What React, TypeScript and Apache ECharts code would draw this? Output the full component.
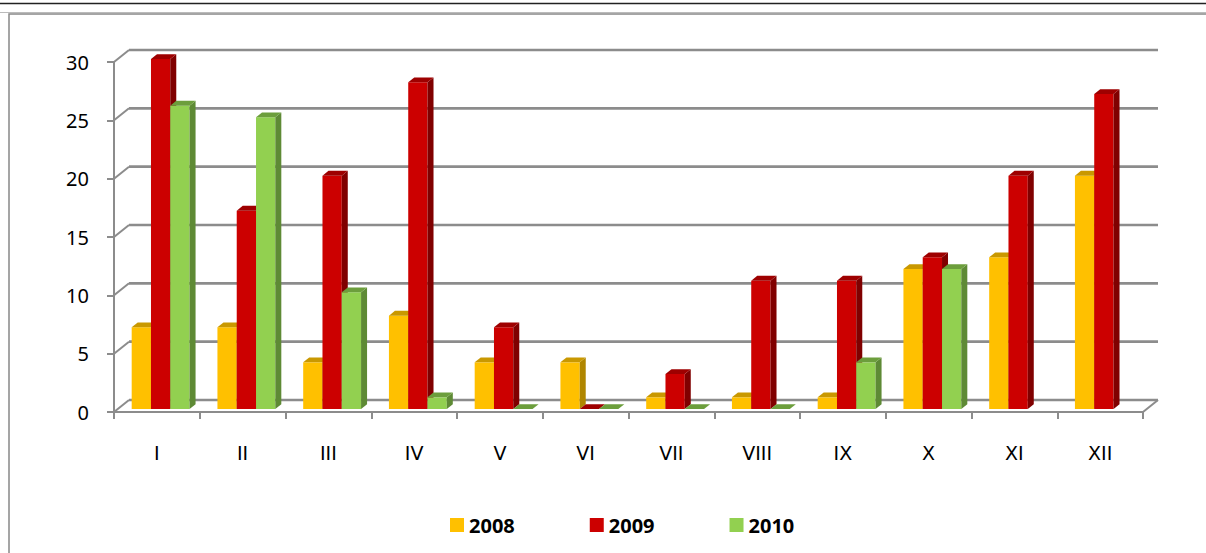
import React, { useEffect, useRef } from "react";
import * as echarts from "echarts";

const months = ["I", "II", "III", "IV", "V", "VI", "VII", "VIII", "IX", "X", "XI", "XII"];
const years = ["2008", "2009", "2010"];
const values2008: (number | null)[] = [7, 7, 4, 8, 4, 4, 1, 1, 1, 12, 13, 20];
const values2009: (number | null)[] = [30, 17, 20, 28, 7, 0, 3, 11, 11, 13, 20, 27];
const values2010: (number | null)[] = [26, 25, 10, 1, 0, 0, 0, 0, 4, 12, null, null];
const yTicks = [0, 5, 10, 15, 20, 25, 30];

const seriesValues = [values2008, values2009, values2010];
const faceColors = [
  { front: "#FFC000", top: "#C99800", side: "#B08600" },
  { front: "#CC0000", top: "#9E0000", side: "#800000" },
  { front: "#92D050", top: "#6C9E3C", side: "#5E8A35" },
];

const GRID_COLOR = "#8C8C8C";
const DX = 15;
const DY = -12;
const BAR_SHIFT = 0.25;
const BAR_DEPTH = 0.4;
const BAR_FRAC = 0.225;
const FONT = "Noto Sans";
const XFONT = "DejaVu Sans";

export default function App() {
  const ref = useRef<HTMLDivElement>(null);
  useEffect(() => {
    if (!ref.current) return;
    const chart = echarts.init(ref.current, null, { renderer: "svg" });

    const wallSeries: any = {
      type: "custom",
      name: "walls",
      silent: true,
      z: 1,
      data: yTicks.map((v) => [0, v]),
      renderItem: (params: any, api: any) => {
        const cs = params.coordSys;
        const v = api.value(1);
        const y = api.coord([0, v])[1];
        const x0 = cs.x;
        const x1 = cs.x + cs.width;
        const style = { stroke: GRID_COLOR, lineWidth: 2 };
        const children: any[] = [
          { type: "line", shape: { x1: x0, y1: y, x2: x0 + DX, y2: y + DY }, style },
          { type: "line", shape: { x1: x0 + DX, y1: y + DY, x2: x1 + DX, y2: y + DY }, style: { stroke: GRID_COLOR, lineWidth: 2.6 } },
        ];
        if (v === 0) {
          children.push({ type: "line", shape: { x1: x1, y1: y, x2: x1 + DX, y2: y + DY }, style });
        }
        return { type: "group", children };
      },
    };

    const barSeries = years.map((yr, k) => ({
      type: "custom",
      name: yr,
      z: 2,
      itemStyle: { color: faceColors[k].front },
      data: seriesValues[k]
        .map((v, i) => (v === null ? null : [i, v]))
        .filter((d) => d !== null),
      renderItem: (params: any, api: any) => {
        const cat = api.value(0);
        const v = api.value(1);
        const topPt = api.coord([cat, v]);
        const basePt = api.coord([cat, 0]);
        const cw = api.size([1, 0])[0];
        const bw = cw * BAR_FRAC;
        const sx = DX * BAR_SHIFT;
        const sy = DY * BAR_SHIFT;
        const L = topPt[0] - 1.5 * bw + k * bw + sx;
        const R = L + bw;
        const T = topPt[1] + sy;
        const B = basePt[1] + sy;
        const ddx = DX * BAR_DEPTH;
        const ddy = DY * BAR_DEPTH;
        const c = faceColors[k];
        const children: any[] = [];
        if (B - T > 0.1) {
          children.push({
            type: "polygon",
            shape: { points: [[L, T], [R, T], [R, B], [L, B]] },
            style: { fill: c.front },
          });
          children.push({
            type: "polygon",
            shape: { points: [[R, T], [R + ddx, T + ddy], [R + ddx, B + ddy], [R, B]] },
            style: { fill: c.side },
          });
        }
        children.push({
          type: "polygon",
          shape: { points: [[L, T], [L + ddx, T + ddy], [R + ddx, T + ddy], [R, T]] },
          style: { fill: c.top },
        });
        return { type: "group", children };
      },
    }));

    chart.setOption({
      animation: false,
      backgroundColor: "#ffffff",
      textStyle: { fontFamily: FONT },
      graphic: [
        { type: "line", shape: { x1: 0, y1: 3.5, x2: 1206, y2: 3.5 }, style: { stroke: "#222", lineWidth: 1.5 } },
        { type: "line", shape: { x1: 0, y1: 12.5, x2: 1206, y2: 12.5 }, style: { stroke: "#bbb", lineWidth: 1 } },
        { type: "rect", shape: { x: 9, y: 14, width: 1240, height: 600 }, style: { fill: "none", stroke: "#888", lineWidth: 1.5 } },
      ],
      grid: { left: 114, top: 62, width: 1029, height: 350, containLabel: false },
      xAxis: {
        type: "category",
        data: months,
        boundaryGap: true,
        axisLine: { show: true, lineStyle: { color: GRID_COLOR, width: 2 } },
        axisTick: { show: true, interval: 0, length: 7, lineStyle: { color: GRID_COLOR, width: 2 } },
        axisLabel: { color: "#000", fontSize: 19, fontFamily: XFONT, margin: 31, interval: 0 },
        splitLine: { show: false },
      },
      yAxis: {
        type: "value",
        min: 0,
        max: 30,
        interval: 5,
        axisLine: { show: true, lineStyle: { color: GRID_COLOR, width: 2 } },
        axisTick: { show: true, length: 7, lineStyle: { color: GRID_COLOR, width: 2 } },
        axisLabel: { color: "#000", fontSize: 20, fontFamily: FONT, margin: 25 },
        splitLine: { show: false },
      },
      legend: {
        data: years.map((y) => ({ name: y, icon: "rect" })),
        left: 445,
        top: 510,
        itemWidth: 14,
        itemHeight: 14,
        itemGap: 75,
        textStyle: { color: "#000", fontSize: 20, fontWeight: "bold", fontFamily: FONT },
        selectedMode: false,
      },
      series: [wallSeries, ...barSeries],
    });

    return () => chart.dispose();
  }, []);

  return (
    <div
      ref={ref}
      style={{ position: "absolute", left: 0, top: 0, width: 1206, height: 553 }}
    />
  );
}
